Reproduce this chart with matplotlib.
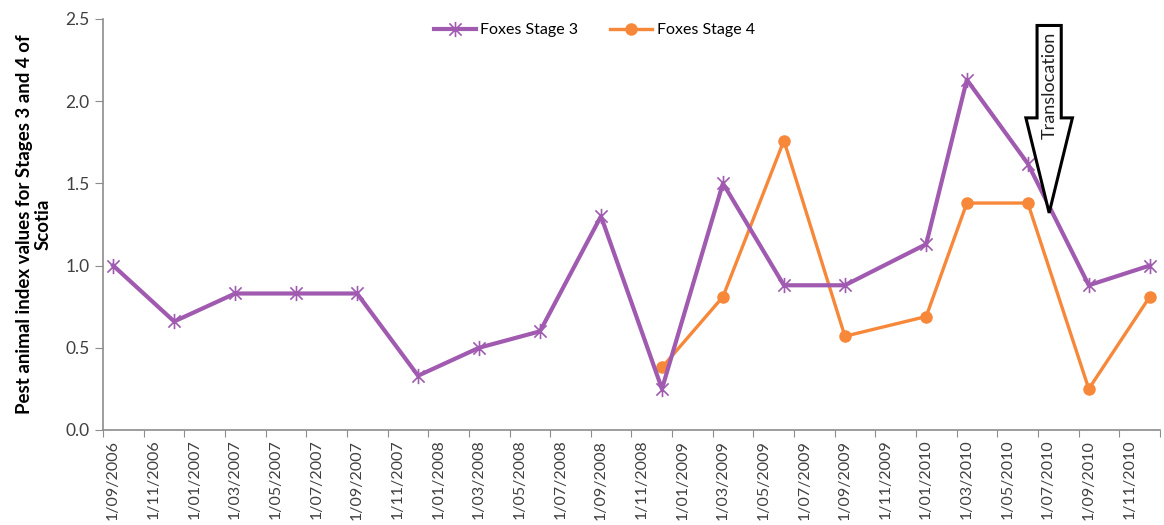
import numpy as np
import pandas as pd
import matplotlib
matplotlib.use("Agg")
import matplotlib.pyplot as plt
from matplotlib.path import Path
from matplotlib.patches import FancyArrow

plt.rcParams['font.family'] = ['Lato', 'DejaVu Sans']

# survey months and index values
stage3_dates = ['2006-09', '2006-12', '2007-03', '2007-06', '2007-09', '2007-12',
                '2008-03', '2008-06', '2008-09', '2008-12', '2009-03', '2009-06',
                '2009-09', '2010-01', '2010-03', '2010-06', '2010-09', '2010-12']
stage3_values = [1.0, 0.66, 0.83, 0.83, 0.83, 0.33,
                 0.5, 0.6, 1.3, 0.25, 1.5, 0.88,
                 0.88, 1.13, 2.13, 1.62, 0.88, 1.0]

stage4_dates = ['2008-12', '2009-03', '2009-06', '2009-09', '2010-01',
                '2010-03', '2010-06', '2010-09', '2010-12']
stage4_values = [0.38, 0.81, 1.76, 0.57, 0.69, 1.38, 1.38, 0.25, 0.81]

tick_labels = ['1/09/2006', '1/11/2006', '1/01/2007', '1/03/2007', '1/05/2007',
               '1/07/2007', '1/09/2007', '1/11/2007', '1/01/2008', '1/03/2008',
               '1/05/2008', '1/07/2008', '1/09/2008', '1/11/2008', '1/01/2009',
               '1/03/2009', '1/05/2009', '1/07/2009', '1/09/2009', '1/11/2009',
               '1/01/2010', '1/03/2010', '1/05/2010', '1/07/2010', '1/09/2010',
               '1/11/2010']

start = pd.Period('2006-09', freq='M')
n_months = 52


def month_pos(dates):
    # each month is one slot, point sits in the middle of it
    return np.array([(pd.Period(d, freq='M') - start).n for d in dates]) + 0.5


purple = '#A05AB0'
orange = '#F7883A'
axis_grey = '#8C8C8C'

star = Path([(-1, -1), (1, 1), (-1, 1), (1, -1), (0, -1.25), (0, 1.25)],
            [Path.MOVETO, Path.LINETO] * 3)

fig = plt.figure(figsize=(11.64, 5.25), dpi=100)
ax = fig.add_axes([0.0885, 0.181, 0.908, 0.783])

ax.plot(month_pos(stage3_dates), stage3_values, color=purple, lw=3,
        marker=star, ms=11, mfc='none', mec=purple, mew=1.2,
        label='Foxes Stage 3', zorder=3)
ax.plot(month_pos(stage4_dates), stage4_values, color=orange, lw=2.4,
        marker='o', ms=8, mfc=orange, mec=orange,
        label='Foxes Stage 4', zorder=2)

# translocation arrow
arrow = FancyArrow(46.55, 2.46, 0, -1.14, width=1.19, head_width=2.29,
                   head_length=0.578, length_includes_head=True,
                   fc='white', ec='black', lw=2.2, zorder=4)
ax.add_patch(arrow)
ax.text(46.6, 2.095, 'Translocation', rotation=90, ha='center', va='center',
        fontsize=13, color='#202020', zorder=5)

ax.set_xlim(0, n_months)
ax.set_ylim(0, 2.5)

ax.set_xticks(np.arange(0, n_months + 1, 2))
ax.set_xticklabels([])
ax.set_xticks(np.arange(0, n_months, 2) + 0.5, minor=True)
ax.set_xticklabels(tick_labels, minor=True, rotation=90, fontsize=11.5,
                   color='#404040')
ax.tick_params(axis='x', which='major', length=5, color=axis_grey)
ax.tick_params(axis='x', which='minor', length=0, pad=7)

ax.set_yticks(np.arange(0, 2.51, 0.5))
ax.set_yticklabels([f'{v:.1f}' for v in np.arange(0, 2.51, 0.5)],
                   fontsize=12.5, color='#404040')
ax.tick_params(axis='y', length=6, color=axis_grey)

for side in ['top', 'right']:
    ax.spines[side].set_visible(False)
for side in ['left', 'bottom']:
    ax.spines[side].set_color(axis_grey)
    ax.spines[side].set_linewidth(1.2)

ax.set_ylabel('Pest animal index values for Stages 3 and 4 of\nScotia',
              fontsize=13.5, fontweight='bold', labelpad=10, linespacing=1.1)

ax.legend(loc='upper center', bbox_to_anchor=(0.465, 1.025), ncol=2, frameon=False,
          fontsize=11.5, handlelength=2.6, handletextpad=0.3, columnspacing=2.0)

plt.savefig('out.png', dpi=100)
